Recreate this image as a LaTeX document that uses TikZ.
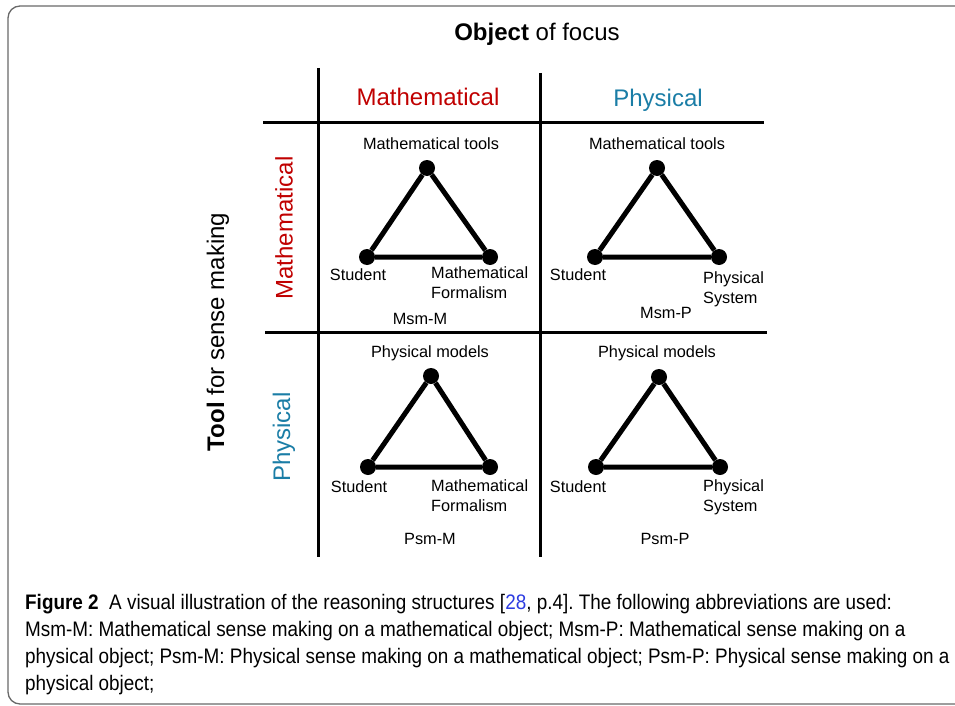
\documentclass[tikz,border=0pt]{standalone}
\usepackage{fontspec}
\setmainfont{Liberation Sans}
\newfontfamily\capfont[FakeStretch=0.9]{Liberation Sans}
\definecolor{mathRed}{RGB}{192,0,0}
\definecolor{physBlue}{RGB}{26,125,166}
\definecolor{citeBlue}{RGB}{45,60,225}
\definecolor{frameGray}{RGB}{105,105,105}
\usetikzlibrary{positioning}
\frenchspacing

\begin{document}
\begin{tikzpicture}[x=1pt, y=-1pt,
    vertex/.style={circle, fill=black, inner sep=0pt, minimum size=16pt},
    triside/.style={line width=5pt},
    gridline/.style={line width=3pt},
    lbl/.style={font=\fontsize{16.3}{20}\selectfont, inner sep=0pt},
    twoline/.style={lbl, anchor=north west, align=left},
    head/.style={font=\fontsize{24}{28}\selectfont, inner sep=0pt},
    capline/.style={font=\capfont\fontsize{21}{27}\selectfont,
                    anchor=base west, inner sep=0pt}]
  \useasboundingbox (0,0) rectangle (955,706);
  % Frame
  \draw[frameGray, line width=1.3pt, rounded corners=12pt] (8,6) rectangle (990,704);

  % Headings
  \node[head] (objhead) at (537,34) {\textbf{Object} of focus};
  \node[head, text=mathRed] (colmath) at (428,97) {Mathematical};
  \node[head, text=physBlue] (colphys) at (658,100) {Physical};
  \node[head, rotate=90] (toolhead) at (218,332) {\textbf{Tool} for sense making};
  \node[head, text=mathRed, rotate=90] (rowmath) at (284,228) {Mathematical};
  \node[head, text=physBlue, rotate=90] (rowphys) at (284,437) {Physical};

  % Grid
  \draw[gridline] (318,68) -- (318,557);
  \draw[gridline] (540,73) -- (540,557);
  \draw[gridline] (263,123) -- (764,123);
  \draw[gridline] (265,332) -- (767,332);

  % Msm-M
  \node[vertex] (mmT) at (427,168) {};
  \node[vertex] (mmL) at (367,257) {};
  \node[vertex] (mmR) at (490,257) {};
  \draw[triside] (mmT) -- (mmL) -- (mmR) -- (mmT);
  \node[lbl] (mmtool) at (431,144) {Mathematical tools};
  \node[lbl] (mmstu) at (358,275) {Student};
  \node[twoline] (mmform) at (431,266) {Mathematical\\Formalism};
  \node[lbl] (mmname) at (420,319) {Msm-M};

  % Msm-P
  \node[vertex] (mpT) at (657,168) {};
  \node[vertex] (mpL) at (595,257) {};
  \node[vertex] (mpR) at (719,257) {};
  \draw[triside] (mpT) -- (mpL) -- (mpR) -- (mpT);
  \node[lbl] (mptool) at (657,144) {Mathematical tools};
  \node[lbl] (mpstu) at (578,275) {Student};
  \node[twoline] (mpsys) at (703,271) {Physical\\System};
  \node[lbl] (mpname) at (666,313) {Msm-P};

  % Psm-M
  \node[vertex] (pmT) at (431,376) {};
  \node[vertex] (pmL) at (368,467) {};
  \node[vertex] (pmR) at (490,467) {};
  \draw[triside] (pmT) -- (pmL) -- (pmR) -- (pmT);
  \node[lbl] (pmmod) at (430,353) {Physical models};
  \node[lbl] (pmstu) at (359,487) {Student};
  \node[twoline] (pmform) at (431,479) {Mathematical\\Formalism};
  \node[lbl] (pmname) at (430,539) {Psm-M};

  % Psm-P
  \node[vertex] (ppT) at (659,377) {};
  \node[vertex] (ppL) at (596,467) {};
  \node[vertex] (ppR) at (720,467) {};
  \draw[triside] (ppT) -- (ppL) -- (ppR) -- (ppT);
  \node[lbl] (ppmod) at (657,353) {Physical models};
  \node[lbl] (ppstu) at (578,487) {Student};
  \node[twoline] (ppsys) at (703,479) {Physical\\System};
  \node[lbl] (ppname) at (665,539) {Psm-P};

  % Caption
  \node[capline] (cap1) at (25,609) {\textbf{Figure 2}\hspace{0.5em}A visual illustration of the reasoning structures [{\color{citeBlue}28}, p.4]. The following abbreviations are used:};
  \node[capline] (cap2) at (25,636) {Msm-M: Mathematical sense making on a mathematical object; Msm-P: Mathematical sense making on a};
  \node[capline] (cap3) at (25,663) {physical object; Psm-M: Physical sense making on a mathematical object; Psm-P: Physical sense making on a};
  \node[capline] (cap4) at (25,690) {physical object;};
\end{tikzpicture}
\end{document}
